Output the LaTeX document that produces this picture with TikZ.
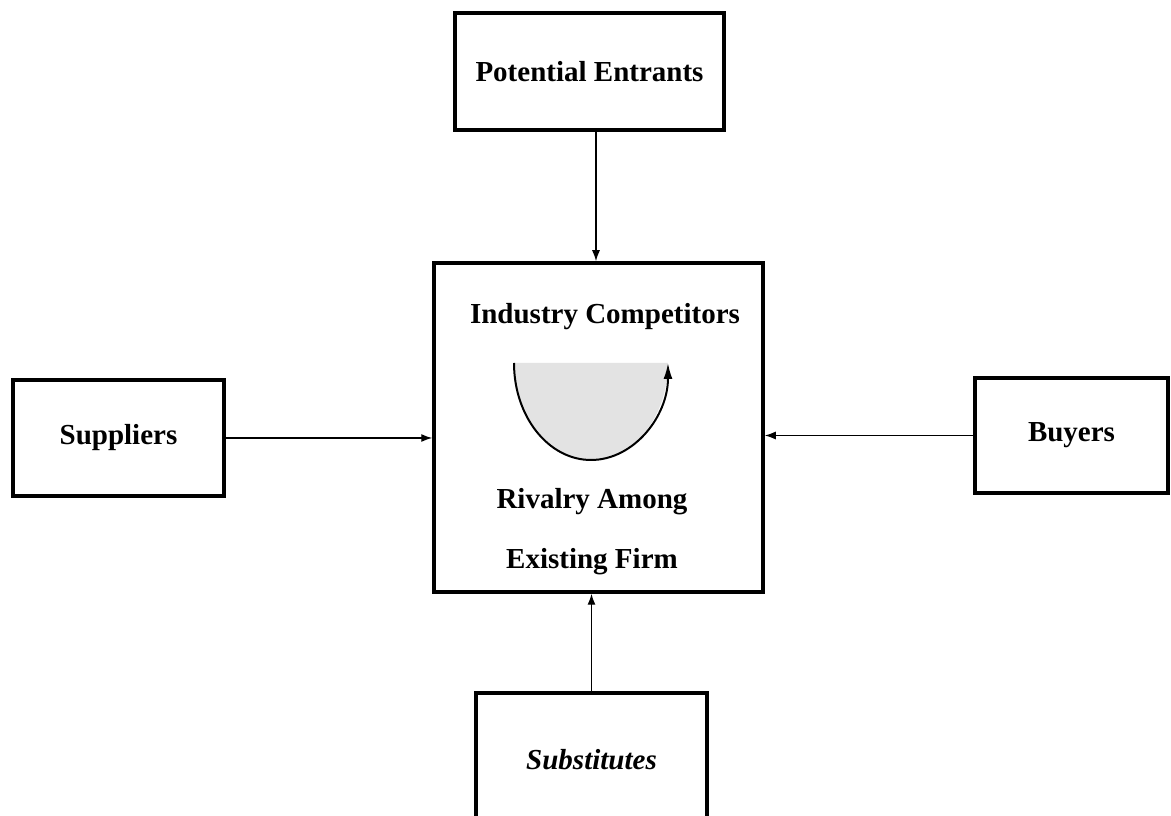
\documentclass[tikz,border=0pt]{standalone}
\usepackage{fontspec}
\setmainfont{Liberation Serif}
\usetikzlibrary{arrows.meta}
\begin{document}
\begin{tikzpicture}[x=1pt,y=1pt,
  box/.style={draw=black,line width=3.5pt,inner sep=0pt,font=\fontsize{29}{34}\selectfont\bfseries},
  lbl/.style={font=\fontsize{29}{34}\selectfont\bfseries,inner sep=0pt},
  arr/.style={line width=1.3pt,-{Latex[length=11pt,width=8pt]}}]
\useasboundingbox (0,0) rectangle (1171,816);
\clip (0,0) rectangle (1171,816);
\node[box,minimum width=269pt,minimum height=117pt] (pe) at (589.5,744.5) {Potential Entrants};
\node[box,minimum width=329pt,minimum height=329pt] (ctr) at (598.5,388.5) {};
\node[box,minimum width=211pt,minimum height=116pt] (sup) at (118.5,378) {Suppliers};
\node[box,minimum width=193pt,minimum height=115pt] (buy) at (1071.5,380.5) {Buyers};
\node[box,minimum width=231pt,minimum height=134pt,font=\fontsize{29}{34}\selectfont\bfseries\itshape] (sub) at (591.5,56) {Substitutes};
\node[lbl] (ic) at (605,499) {Industry Competitors};
\node[lbl] (ra) at (592,314) {Rivalry Among};
\node[lbl] (ef) at (592,254) {Existing Firm};
\coordinate (ax) at (596,0);
\draw[arr] (pe.south -| ax) -- (ctr.north -| ax);
\draw[arr] (sup.east) -- (sup.east -| ctr.west);
\draw[arr] (buy.west) -- (buy.west -| ctr.east);
\draw[arr] (sub.north) -- (sub.north |- ctr.south);
\coordinate (arcstart) at (514,453);
\fill[gray!22] (arcstart) arc[start angle=180,end angle=360,x radius=77,y radius=97] -- cycle;
\draw[line width=2pt,-{Latex[length=16pt,width=9pt]}] (arcstart) arc[start angle=180,end angle=360,x radius=77,y radius=97];
\end{tikzpicture}
\end{document}
